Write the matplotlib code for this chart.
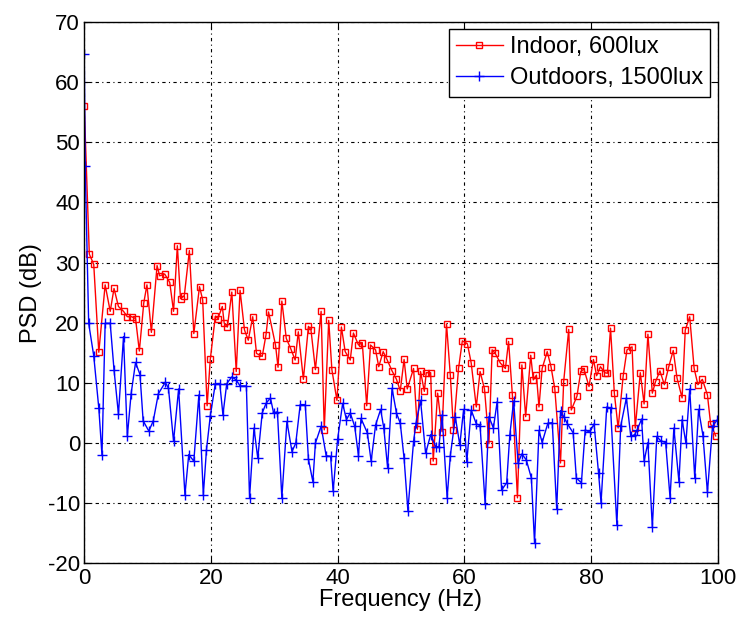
import numpy as np
import matplotlib.pyplot as plt

plt.rcParams['font.family'] = ['Liberation Sans', 'DejaVu Sans']
plt.rcParams['axes.unicode_minus'] = False

# Indoor, 600lux (red)
f_in = [0, 0.8, 1.5, 2.3, 3.3, 4.1, 4.7, 5.4, 6.2, 6.8, 7.5, 8.1, 8.7, 9.4, 9.9,
        10.6, 11.5, 11.9, 12.7, 13.5, 14.1, 14.7, 15.2, 15.8, 16.6, 17.3, 18.2,
        18.7, 19.4, 19.9, 20.7, 21.1, 21.8, 22.1, 22.6, 23.3, 24.0, 24.6, 25.3,
        25.9, 26.6, 27.2, 28.1, 28.7, 29.1, 30.2, 30.6, 31.2, 31.9, 32.6, 33.3,
        33.8, 34.6, 35.4, 35.8, 36.5, 37.4, 37.9, 38.6, 39.1, 39.9, 40.6, 41.2,
        42.0, 42.5, 43.3, 43.9, 44.6, 45.2, 46.0, 46.5, 47.2, 47.8, 48.6, 49.3,
        49.9, 50.5, 51.0, 52.0, 52.6, 53.1, 53.7, 54.0, 54.7, 55.1, 55.8, 56.5,
        57.2, 57.8, 58.3, 59.1, 59.7, 60.5, 61.1, 61.9, 62.5, 63.2, 63.9, 64.4,
        64.9, 65.7, 66.5, 67.0, 67.6, 68.4, 69.1, 69.7, 70.5, 70.9, 71.4, 71.8,
        72.3, 73.1, 73.7, 74.3, 75.2, 75.7, 76.5, 76.9, 77.8, 78.4, 78.9, 79.7,
        80.4, 80.9, 81.5, 82.2, 82.6, 83.1, 83.7, 84.3, 85.1, 85.7, 86.5, 87.0,
        87.8, 88.4, 89.0, 89.7, 90.2, 90.9, 91.6, 92.3, 93.0, 93.6, 94.4, 94.9,
        95.6, 96.3, 96.9, 97.6, 98.4, 98.9, 99.7]
psd_in = [56.0, 31.4, 29.7, 15.1, 26.3, 21.9, 25.7, 22.7, 21.9, 21.0, 21.0, 20.7,
          15.3, 23.3, 26.3, 18.4, 29.5, 27.8, 28.1, 26.7, 21.9, 32.8, 24.0, 24.5,
          32.0, 18.2, 26.0, 23.8, 6.2, 13.9, 21.1, 20.7, 22.7, 19.9, 19.3, 25.1,
          11.9, 25.4, 18.8, 17.1, 21.0, 14.9, 14.4, 18.0, 21.8, 16.3, 12.6, 23.6,
          17.4, 15.7, 13.8, 18.5, 10.6, 19.4, 18.8, 12.2, 21.9, 2.2, 20.4, 12.2,
          7.1, 19.3, 15.2, 13.8, 18.3, 16.3, 16.7, 6.2, 16.3, 15.5, 12.7, 15.2,
          13.9, 12.0, 10.6, 8.7, 13.9, 9.0, 12.4, 2.3, 11.9, 8.6, 11.7, 11.7,
          -3.0, 8.3, 1.9, 19.8, 11.3, 2.2, 12.4, 17.0, 16.5, 13.3, 6.0, 11.9,
          9.0, -0.1, 15.5, 14.9, 13.3, 12.4, 16.9, 8.0, -9.1, 13.0, 4.4, 14.6,
          10.5, 11.3, 6.0, 12.4, 15.2, 12.7, 9.0, -3.3, 10.2, 18.9, 5.5, 7.8,
          11.9, 12.3, 9.4, 13.9, 11.2, 12.7, 11.7, 11.6, 19.1, 8.3, 2.5, 11.2,
          15.5, 16.0, 2.5, 11.7, 6.5, 18.1, 8.3, 10.2, 12.0, 9.7, 12.7, 15.4,
          10.8, 7.5, 18.8, 21.0, 12.4, 9.7, 10.6, 8.0, 3.2, 1.2]

# Outdoors, 1500lux (blue)
f_out = [0, 0.15, 0.7, 1.5, 2.3, 2.8, 3.3, 4.1, 4.7, 5.4, 6.2, 6.8, 7.4, 8.1,
         8.8, 9.3, 10.2, 10.9, 11.7, 12.8, 13.3, 14.1, 14.9, 15.9, 16.5, 17.3,
         18.1, 18.8, 19.3, 19.9, 20.7, 21.4, 21.9, 22.5, 23.3, 24.0, 24.6, 25.6,
         26.1, 26.8, 27.4, 28.1, 28.7, 29.4, 29.9, 30.5, 31.2, 32.0, 32.8, 33.4,
         34.1, 34.9, 35.4, 36.1, 36.5, 37.4, 38.2, 38.9, 39.3, 40.0, 40.8, 41.4,
         42.0, 42.7, 43.3, 43.7, 44.7, 45.3, 46.0, 46.8, 47.3, 47.9, 48.6, 49.3,
         49.9, 50.5, 51.1, 52.0, 52.4, 53.1, 53.9, 54.7, 55.5, 56.0, 56.5, 57.3,
         57.8, 58.6, 59.3, 59.9, 60.4, 61.1, 61.9, 62.5, 63.3, 63.9, 64.6, 65.2,
         65.9, 66.7, 67.2, 67.8, 68.5, 69.1, 69.8, 70.6, 71.1, 71.8, 72.3, 73.2,
         73.9, 74.6, 75.2, 75.7, 76.3, 77.2, 77.7, 78.5, 79.1, 79.8, 80.5, 81.2,
         81.6, 82.5, 83.1, 84.1, 84.7, 85.6, 86.3, 86.9, 87.3, 88.0, 88.4, 89.0,
         89.7, 90.4, 91.0, 91.8, 92.5, 93.1, 93.9, 94.4, 95.0, 95.6, 96.4, 97.0,
         97.7, 98.4, 99.2, 99.9]
psd_out = [64.7, 46.0, 19.9, 14.5, 5.8, -2.0, 19.9, 19.9, 12.2, 4.8, 17.7, 1.1,
           8.2, 13.4, 11.4, 3.7, 2.0, 3.7, 8.2, 10.1, 9.1, 0.3, 9.0, -8.6, -1.9,
           -3.0, 8.0, -8.6, -1.1, 4.5, 9.9, 9.9, 4.7, 9.9, 11.0, 10.5, 9.5, 9.5,
           -9.1, 2.5, -2.5, 5.0, 6.6, 7.5, 5.0, 5.2, -9.1, 3.6, -1.4, 0.0, 6.4,
           6.4, -2.7, -6.4, 0.0, 2.8, -2.1, -2.2, -8.0, 0.6, 6.6, 3.9, 5.0, 2.8,
           -2.1, 4.1, 1.7, -3.0, 3.0, 5.6, 2.5, -4.1, 9.1, 5.0, 3.3, -2.5, -11.2,
           0.3, 3.4, 7.1, -1.7, 1.4, -0.6, -0.6, 4.7, -9.1, -2.1, 4.3, -0.3, 5.6,
           -3.2, 5.5, 3.2, 2.9, -10.1, 4.4, 2.5, 6.9, -7.8, -6.6, 1.4, 7.0, -3.3,
           -1.8, -2.8, -5.8, -16.6, 2.1, 0.1, 3.3, 3.4, -11.0, 5.4, 4.4, 3.2, 1.7,
           -5.8, -6.6, 2.2, 1.8, 3.2, -4.9, -9.9, 6.0, 5.8, -13.6, 2.8, 7.5, 1.1,
           1.4, 2.2, 4.0, -3.0, 0.1, -14.0, 1.1, 0.4, 0.1, -9.1, 2.5, -6.4, 3.9,
           0.0, 9.0, -5.8, 5.6, 1.2, -8.2, 2.8, 3.8]

fig = plt.figure(figsize=(7.39, 6.24), dpi=100)
ax = fig.add_axes([0.114, 0.097, 0.857, 0.868])

ax.plot(f_in, psd_in, color='red', lw=1, marker='s', ms=5, mfc='none',
        mec='red', mew=1, label='Indoor, 600lux')
ax.plot(f_out, psd_out, color='blue', lw=1, marker='+', ms=7, mew=1,
        label='Outdoors, 1500lux')

ax.set_xlim(0, 100)
ax.set_ylim(-20, 70)
ax.set_xticks(np.arange(0, 101, 20))
ax.set_yticks(np.arange(-20, 71, 10))
ax.tick_params(direction='in', top=True, right=True, labelsize=16, length=5,
               pad=3)
ax.grid(True, color='black', linestyle=(0, (3, 3, 1, 3)), lw=0.8)
ax.set_xlabel('Frequency (Hz)', fontsize=17, labelpad=0)
ax.set_ylabel('PSD (dB)', fontsize=17, labelpad=4)
for s in ax.spines.values():
    s.set_linewidth(1)

leg = ax.legend(loc='upper right', fontsize=17, fancybox=False, framealpha=1,
                edgecolor='black', handlelength=2.0, handletextpad=0.3,
                borderpad=0.3, labelspacing=0.4, borderaxespad=0.3)
leg.get_frame().set_linewidth(1)

fig.savefig('out.png', dpi=100)
